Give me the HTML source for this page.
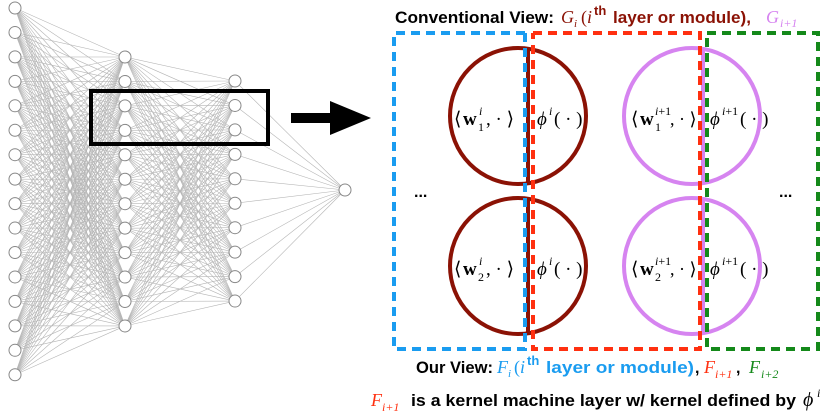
<!DOCTYPE html>
<html><head><meta charset="utf-8"><style>
html,body{margin:0;padding:0;background:#fff;}
svg{display:block}
.s{font-family:"Liberation Sans",sans-serif;font-weight:bold}
.m{font-family:"Liberation Serif",serif}
.i{font-style:italic}
</style></head><body>
<svg id="sv" width="830" height="415" viewBox="0 0 830 415" xmlns="http://www.w3.org/2000/svg">
<g id="net" stroke="#b5b5b5" stroke-width="0.6" fill="none"></g>
<g id="nodes" stroke="#888" stroke-width="1" fill="#fff"></g>
<rect x="91" y="91" width="177" height="53" fill="none" stroke="#000" stroke-width="4"/>
<rect x="291" y="113" width="40" height="10" fill="#000"/>
<polygon points="330,101 371,118 330,135" fill="#000"/>

<g fill="none" stroke-width="4">
<circle cx="518" cy="116" r="68" stroke="#8b1205"/>
<circle cx="518" cy="266" r="68" stroke="#8b1205"/>
<line x1="528" y1="49" x2="528" y2="183" stroke="#8b1205"/>
<line x1="528" y1="199" x2="528" y2="333" stroke="#8b1205"/>
<circle cx="692" cy="116" r="68" stroke="#d684f0"/>
<circle cx="692" cy="266" r="68" stroke="#d684f0"/>
<line x1="703" y1="49" x2="703" y2="183" stroke="#d684f0"/>
<line x1="703" y1="199" x2="703" y2="333" stroke="#d684f0"/>
</g>
<g fill="none" stroke-width="4" stroke-dasharray="9,6">
<path d="M525,33 H394 V349 H525 V33" stroke="#1a9cf0"/>
<path d="M533,33 H700 V349 H533 V33" stroke="#ff3010"/>
<path d="M707,33 H818 V349 H707 V33" stroke="#14891a"/>
</g>

<g class="m" fill="#000">
<text x="454" y="125" font-size="19">⟨</text>
<text x="463" y="125" font-size="19" font-weight="bold">w</text>
<text x="479" y="115" font-size="12" class="i">i</text>
<text x="478" y="131" font-size="12">1</text>
<text x="486" y="125" font-size="19">, · ⟩</text>
<text x="537" y="125" font-size="19" class="i">ϕ</text>
<text x="549" y="115" font-size="12" class="i">i</text>
<text x="554" y="125" font-size="19">( · )</text>
<text x="631" y="125" font-size="19">⟨</text>
<text x="640" y="125" font-size="19" font-weight="bold">w</text>
<text x="655" y="115" font-size="12" class="i">i<tspan font-style="normal">+1</tspan></text>
<text x="655" y="131" font-size="12">1</text>
<text x="670" y="125" font-size="18">, · ⟩</text>
<text x="710" y="125" font-size="19" class="i">ϕ</text>
<text x="722" y="115" font-size="12" class="i">i<tspan font-style="normal">+1</tspan></text>
<text x="740" y="125" font-size="19">( · )</text>
<text x="454" y="275" font-size="19">⟨</text>
<text x="463" y="275" font-size="19" font-weight="bold">w</text>
<text x="479" y="265" font-size="12" class="i">i</text>
<text x="478" y="281" font-size="12">2</text>
<text x="486" y="275" font-size="19">, · ⟩</text>
<text x="537" y="275" font-size="19" class="i">ϕ</text>
<text x="549" y="265" font-size="12" class="i">i</text>
<text x="554" y="275" font-size="19">( · )</text>
<text x="631" y="275" font-size="19">⟨</text>
<text x="640" y="275" font-size="19" font-weight="bold">w</text>
<text x="655" y="265" font-size="12" class="i">i<tspan font-style="normal">+1</tspan></text>
<text x="655" y="281" font-size="12">2</text>
<text x="670" y="275" font-size="18">, · ⟩</text>
<text x="710" y="275" font-size="19" class="i">ϕ</text>
<text x="722" y="265" font-size="12" class="i">i<tspan font-style="normal">+1</tspan></text>
<text x="740" y="275" font-size="19">( · )</text>
</g>
<text x="414" y="197" class="s" font-size="16">...</text>
<text x="779" y="197" class="s" font-size="16">...</text>

<text x="395" y="23" class="s" font-size="16.5" textLength="159" lengthAdjust="spacingAndGlyphs">Conventional View:</text>
<text x="561" y="23" class="m i" font-size="18" fill="#8b1205">G</text>
<text x="574" y="27" class="m i" font-size="11" fill="#8b1205">i</text>
<text x="581" y="23" class="m" font-size="18" fill="#8b1205">(<tspan class="i">i</tspan></text>
<text x="594" y="15" class="s" font-size="13" fill="#8b1205">th</text>
<text x="613" y="23" class="s" font-size="16.5" fill="#8b1205" textLength="138" lengthAdjust="spacingAndGlyphs">layer or module),</text>
<text x="766" y="23" class="m i" font-size="18" fill="#d684f0">G</text>
<text x="780" y="27" class="m i" font-size="12" fill="#d684f0">i+1</text>

<text x="416" y="373" class="s" font-size="16.5" textLength="77" lengthAdjust="spacingAndGlyphs">Our View:</text>
<text x="497" y="373" class="m i" font-size="18" fill="#1a9cf0">F</text>
<text x="508" y="377" class="m i" font-size="11" fill="#1a9cf0">i</text>
<text x="514" y="373" class="m" font-size="18" fill="#1a9cf0">(<tspan class="i">i</tspan></text>
<text x="527" y="365" class="s" font-size="13" fill="#1a9cf0">th</text>
<text x="546" y="373" class="s" font-size="16.5" fill="#1a9cf0" textLength="148" lengthAdjust="spacingAndGlyphs">layer or module)</text>
<text x="695" y="373" class="s" font-size="16">,</text>
<text x="704" y="373" class="m i" font-size="18" fill="#ff3010">F</text>
<text x="715" y="378" class="m i" font-size="12" fill="#ff3010">i+1</text>
<text x="736" y="373" class="s" font-size="16">,</text>
<text x="749" y="373" class="m i" font-size="18" fill="#14891a">F</text>
<text x="761" y="378" class="m i" font-size="12" fill="#14891a">i+2</text>

<text x="371" y="406" class="m i" font-size="18" fill="#ff3010">F</text>
<text x="382" y="411" class="m i" font-size="12" fill="#ff3010">i+1</text>
<text x="411" y="406" class="s" font-size="16.5" textLength="385" lengthAdjust="spacingAndGlyphs">is a kernel machine layer w/ kernel defined by</text>
<text x="803" y="406" class="m i" font-size="20">ϕ</text>
<text x="817" y="397" class="m i" font-size="12">i</text>
</svg>
<script>
(function(){
var ns="http://www.w3.org/2000/svg";
function layer(x,n,y0){var a=[];for(var k=0;k<n;k++)a.push([x,y0+k*24.45]);return a;}
var L=[layer(15,16,8),layer(125,12,57),layer(235,10,81),[[345,190]]];
var net=document.getElementById('net'),nd=document.getElementById('nodes');
for(var l=0;l<3;l++)for(var a=0;a<L[l].length;a++)for(var b=0;b<L[l+1].length;b++){
var e=document.createElementNS(ns,'line');
e.setAttribute('x1',L[l][a][0]);e.setAttribute('y1',L[l][a][1]);
e.setAttribute('x2',L[l+1][b][0]);e.setAttribute('y2',L[l+1][b][1]);net.appendChild(e);}
L.forEach(function(ly){ly.forEach(function(p){var c=document.createElementNS(ns,'circle');
c.setAttribute('cx',p[0]);c.setAttribute('cy',p[1]);c.setAttribute('r',6);nd.appendChild(c);});});
})();
</script>
</body></html>
